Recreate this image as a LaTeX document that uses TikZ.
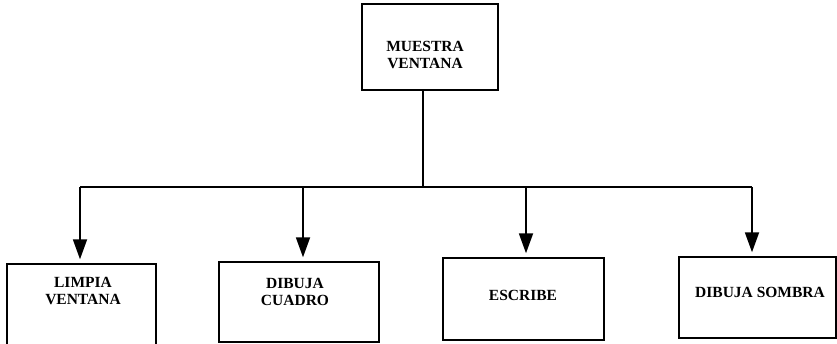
\documentclass[tikz,border=0pt]{standalone}
\usepackage{fontspec}
\setmainfont{Liberation Serif}
\usetikzlibrary{arrows.meta}
\begin{document}
\begin{tikzpicture}[x=1pt,y=-1pt,
  box/.style={draw, line width=1.4pt, inner sep=0pt},
  lbl/.style={font=\bfseries\fontsize{15.5}{17}\selectfont, align=center, inner sep=0pt},
  conn/.style={line width=1.8pt},
  arr/.style={conn, -{Triangle[length=20pt,width=14pt]}, shorten >=4pt}]
\useasboundingbox (0,0) rectangle (837,344);
\clip (0,0) rectangle (837,344);
% boxes
\node[box, minimum width=136pt, minimum height=86pt] (top) at (430,47) {};
\node[box, minimum width=149pt, minimum height=96pt] (limpia) at (81.5,312) {};
\node[box, minimum width=160pt, minimum height=80pt] (cuadro) at (299,302) {};
\node[box, minimum width=161pt, minimum height=82pt] (escribe) at (523.5,299) {};
\node[box, minimum width=157pt, minimum height=81pt] (sombra) at (757.5,297.5) {};
% texts
\node[lbl] (topT) at (425,55) {MUESTRA\\VENTANA};
\node[lbl] (limpiaT) at (83,291) {LIMPIA\\VENTANA};
\node[lbl] (cuadroT) at (295,292) {DIBUJA\\CUADRO};
\node[lbl] (escribeT) at (523,295) {ESCRIBE};
\node[lbl] (sombraT) at (760,292) {DIBUJA SOMBRA};
% bus
\coordinate (bus) at (423,187);
\coordinate (b1) at (80,187);
\coordinate (b2) at (303,187);
\coordinate (b3) at (526,187);
\coordinate (b4) at (752,187);
\draw[conn] (top.south -| bus) -- (bus);
\draw[conn] (b1) -- (b4);
\draw[arr] (b1) -- (b1 |- limpia.north);
\draw[arr] (b2) -- (b2 |- cuadro.north);
\draw[arr] (b3) -- (b3 |- escribe.north);
\draw[arr] (b4) -- (b4 |- sombra.north);
\end{tikzpicture}
\end{document}
